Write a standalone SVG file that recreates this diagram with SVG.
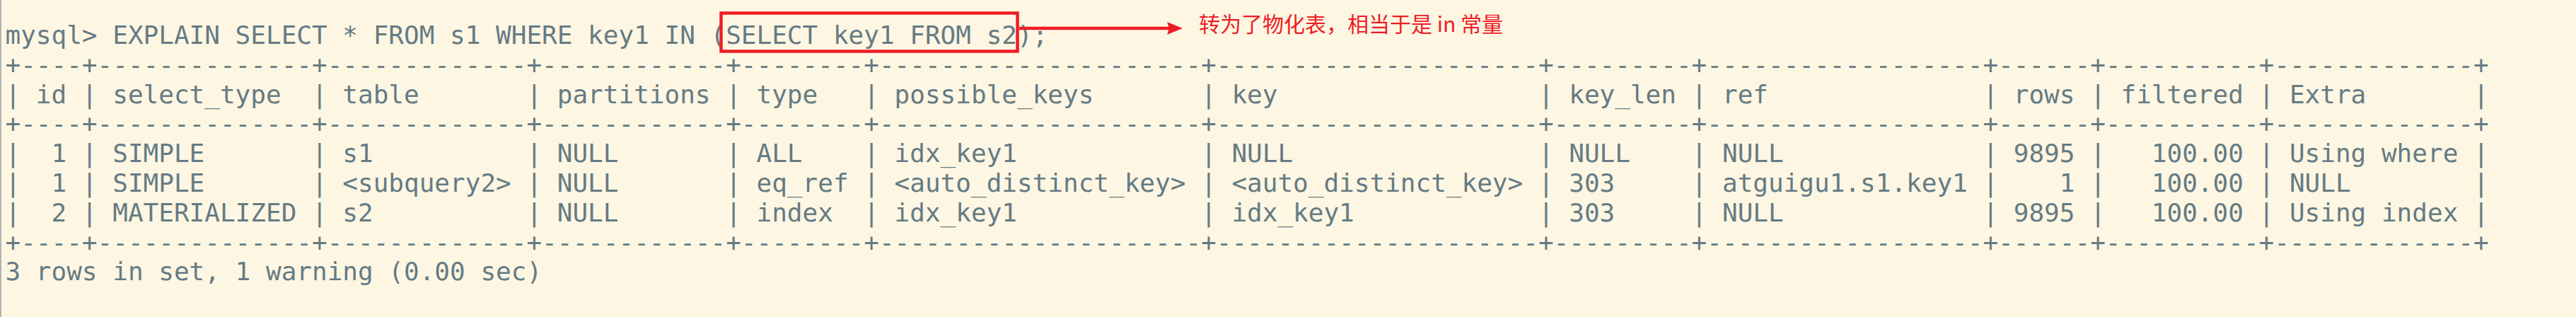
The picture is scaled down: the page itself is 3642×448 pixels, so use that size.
<svg xmlns="http://www.w3.org/2000/svg" width="3642" height="448" viewBox="0 0 3642 448" xml:space="preserve">
<style>
.bg{fill:#fdf6e3}
.edge{fill:#b3b3b3}
.term{font-family:"DejaVu Sans Mono","Liberation Mono",monospace;font-size:36px;fill:#657b83;white-space:pre}
.note{font-family:"Noto Sans CJK SC","Noto Sans",sans-serif;font-size:30px;fill:#ee1d25}
.redbox{fill:none;stroke:#ee1d25;stroke-width:4.5}
.arrow{fill:none;stroke:#ee1d25;stroke-width:4.5}
</style>
<defs>
<marker id="head" markerUnits="userSpaceOnUse" markerWidth="22" markerHeight="18" refX="6" refY="9" orient="auto" viewBox="0 0 22 18">
<path d="M0,0 L22,9 L0,18 L3,9 Z" fill="#ee1d25"/>
</marker>
</defs>
<rect class="bg" x="0" y="0" width="3642" height="448"/>
<rect class="edge" x="0" y="0" width="2" height="448"/>
<g id="terminal">
<text class="term" x="7.5" y="62">mysql&gt; EXPLAIN SELECT * FROM s1 WHERE key1 IN (SELECT key1 FROM s2);</text>
<text class="term" x="7.5" y="103.8">+----+--------------+-------------+------------+--------+---------------------+---------------------+---------+------------------+------+----------+-------------+</text>
<text class="term" x="7.5" y="145.6">| id | select_type  | table       | partitions | type   | possible_keys       | key                 | key_len | ref              | rows | filtered | Extra       |</text>
<text class="term" x="7.5" y="187.4">+----+--------------+-------------+------------+--------+---------------------+---------------------+---------+------------------+------+----------+-------------+</text>
<text class="term" x="7.5" y="229.2">|  1 | SIMPLE       | s1          | NULL       | ALL    | idx_key1            | NULL                | NULL    | NULL             | 9895 |   100.00 | Using where |</text>
<text class="term" x="7.5" y="271">|  1 | SIMPLE       | &lt;subquery2&gt; | NULL       | eq_ref | &lt;auto_distinct_key&gt; | &lt;auto_distinct_key&gt; | 303     | atguigu1.s1.key1 |    1 |   100.00 | NULL        |</text>
<text class="term" x="7.5" y="312.8">|  2 | MATERIALIZED | s2          | NULL       | index  | idx_key1            | idx_key1            | 303     | NULL             | 9895 |   100.00 | Using index |</text>
<text class="term" x="7.5" y="354.6">+----+--------------+-------------+------------+--------+---------------------+---------------------+---------+------------------+------+----------+-------------+</text>
<text class="term" x="7.5" y="396.4">3 rows in set, 1 warning (0.00 sec)</text>
</g>
<g id="highlight">
<rect class="redbox" x="1019.5" y="18.5" width="419" height="54"/>
</g>
<g id="connectors">
<line class="arrow" x1="1441" y1="40" x2="1656" y2="40" marker-end="url(#head)"/>
</g>
<g id="note">
<text class="note" x="1695" y="44.5">转为了物化表，相当于是 in 常量</text>
</g>
</svg>
